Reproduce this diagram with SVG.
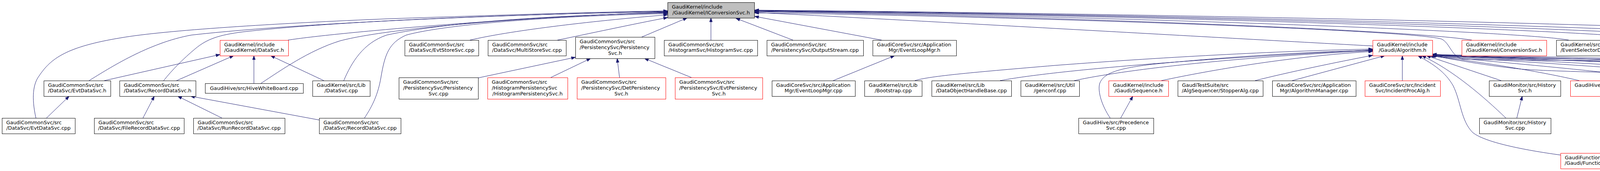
<svg xmlns="http://www.w3.org/2000/svg" width="5783" height="439" viewBox="0 0 5783 439">
<defs>
<marker id="a" viewBox="-1 -5 12 10" refX="10" refY="0" markerWidth="12" markerHeight="10" markerUnits="userSpaceOnUse" orient="auto">
<path d="M0,-3.5 L10,0 L0,3.5 z" fill="#191970" stroke="#191970" stroke-width="1"/>
</marker>
</defs>
<style>
.n rect{fill:#fff;stroke:#000;stroke-width:1}
.r rect{stroke:#f00}
.root rect{fill:#bfbfbf}
text{font-family:"DejaVu Sans","Liberation Sans",sans-serif;font-size:12.9px;fill:#000}
.m{text-anchor:middle}
.e path{fill:none;stroke:#191970;stroke-width:1;marker-end:url(#a)}
</style>
<rect width="5783" height="439" fill="#fff"/>
<g class="e" id="edges">
<path d="M92,303 C80,250 85,215 100,195 C130,150 170,120 310,97 C420,78 700,60 1000,48 C1300,38 1550,30 1709,28"/>
<path d="M228,207 C280,175 380,110 490,90 C800,55 1400,35 1709,29"/>
<path d="M419,207 C440,180 470,150 500,125 C530,100 560,90 620,82 C900,50 1400,35 1709,30"/>
<path d="M737,103 C850,85 1300,45 1709,31"/>
<path d="M668,214 C720,180 790,130 870,105 C1000,70 1400,40 1709,32"/>
<path d="M880,207 C900,160 930,110 990,90 C1150,55 1450,38 1709,33"/>
<path d="M933,303 C955,270 968,240 975,200 C985,140 995,110 1040,90 C1150,60 1450,40 1709,35"/>
<path d="M1203,103 C1300,80 1500,55 1709,38"/>
<path d="M1427,103 C1500,88 1620,62 1709,45"/>
<path d="M1643,95 L1759,46"/>
<path d="M1820,103 L1820,46"/>
<path d="M2030,103 L1884,47"/>
<path d="M2257,103 L1932,42"/>
<path d="M3514,118 C3000,90 2300,50 1932,32"/>
<path d="M3768,103 C3600,75 2600,40 1932,30"/>
<path d="M4016,103 C3900,80 2800,40 1932,29"/>
<path d="M4250,103 C4150,80 3000,40 1932,28"/>
<path d="M4428,103 C4300,78 3000,38 1932,27"/>
<path d="M4607,103 C4450,75 3000,36 1932,27"/>
<path d="M4825,103 C4700,70 3000,35 1932,26"/>
<path d="M5650,207 C5580,190 5450,178 5290,172 C5100,158 4950,150 4800,153 C4400,156 3900,156 3745,152 C3715,145 3712,110 3690,100 C3600,75 2500,40 1932,33"/>
<path d="M2342,207 C2380,195 2500,185 2700,168 C3000,145 3300,130 3514,126"/>
<path d="M2560,207 C2650,190 2900,160 3514,128"/>
<path d="M2750,207 C2850,185 3100,150 3514,130"/>
<path d="M2842,303 C2820,270 2810,235 2815,215 C2825,185 2870,175 2950,165 C3150,145 3350,133 3514,129"/>
<path d="M2973,207 C3100,180 3300,145 3514,132"/>
<path d="M3213,207 C3300,185 3420,160 3514,142"/>
<path d="M3308,207 L3545,143"/>
<path d="M3590,207 L3590,143"/>
<path d="M3843,207 L3652,143"/>
<path d="M3855,303 C3800,250 3720,180 3640,143"/>
<path d="M3995,398 C3900,385 3800,365 3770,340 C3740,310 3740,260 3720,220 C3700,185 3670,165 3630,143"/>
<path d="M4043,207 C3950,185 3800,160 3660,143"/>
<path d="M4265,207 C4200,192 3900,165 3662,143"/>
<path d="M4478,207 C4400,190 4000,165 3664,143"/>
<path d="M4597,303 C4640,275 4670,240 4660,210 C4640,170 4500,160 4300,155 C4000,150 3800,150 3667,141"/>
<path d="M4760,214 C4700,198 4300,175 3666,142"/>
<path d="M4852,303 C4900,270 4920,230 4905,205 C4880,180 4700,175 4400,165 C4000,155 3800,150 3667,140"/>
<path d="M5030,214 C4950,195 4300,165 3667,142"/>
<path d="M5172,311 C5210,270 5230,230 5205,200 C5150,170 4800,160 4300,155 C4000,150 3800,148 3667,139"/>
<path d="M5290,207 C5200,185 4600,165 3667,141"/>
<path d="M5480,207 C5350,182 4800,162 3667,140"/>
<path d="M5650,207 C5580,192 5400,190 5000,190 C4500,191 4100,190 3900,178 C3800,168 3720,152 3665,143"/>
<path d="M1224,200 L1473,147"/>
<path d="M1410,199 L1512,150"/>
<path d="M1586,199 L1580,150"/>
<path d="M1770,199 L1650,150"/>
<path d="M267,207 L563,140"/>
<path d="M452,207 L598,143"/>
<path d="M650,214 L650,143"/>
<path d="M829,207 L693,143"/>
<path d="M119,303 L177,247"/>
<path d="M366,303 L395,247"/>
<path d="M568,303 L455,247"/>
<path d="M817,308 L488,247"/>
<path d="M2133,207 L2290,143"/>
<path d="M2869,303 L2900,247"/>
<path d="M3883,303 L3897,247"/>
<path d="M4227,393 L4452,343"/>
<path d="M4545,303 L4545,247"/>
<path d="M4805,303 L4803,239"/>
<path d="M5148,311 L5093,239"/>
</g>
<g id="n0" class="n root"><rect x="1709.5" y="6.5" width="222" height="40"/><text x="1720" y="22">GaudiKernel/include</text><text class="m" x="1820.5" y="37">/GaudiKernel/IConversionSvc.h</text></g>
<g id="n1" class="n"><rect x="112.5" y="207.5" width="171" height="40"/><text x="123" y="223">GaudiCommonSvc/src</text><text class="m" x="197.5" y="237">/DataSvc/EvtDataSvc.h</text></g>
<g id="n2" class="n"><rect x="306.5" y="207.5" width="195" height="40"/><text x="317" y="223">GaudiCommonSvc/src</text><text class="m" x="403.5" y="237">/DataSvc/RecordDataSvc.h</text></g>
<g id="n3" class="n"><rect x="5.5" y="303.5" width="187" height="40"/><text x="16" y="319">GaudiCommonSvc/src</text><text class="m" x="98.5" y="333">/DataSvc/EvtDataSvc.cpp</text></g>
<g id="n4" class="n"><rect x="241.5" y="303.5" width="230" height="40"/><text x="252" y="319">GaudiCommonSvc/src</text><text class="m" x="356" y="333">/DataSvc/FileRecordDataSvc.cpp</text></g>
<g id="n5" class="n r"><rect x="563.5" y="103.5" width="175" height="40"/><text x="574" y="119">GaudiKernel/include</text><text class="m" x="650.5" y="133">/GaudiKernel/DataSvc.h</text></g>
<g id="n6" class="n"><rect x="525.5" y="214.5" width="251" height="25"/><text class="m" x="650.5" y="230.5">GaudiHive/src/HiveWhiteBoard.cpp</text></g>
<g id="n7" class="n"><rect x="800.5" y="207.5" width="147" height="40"/><text x="811" y="223">GaudiKernel/src/Lib</text><text class="m" x="873.5" y="237">/DataSvc.cpp</text></g>
<g id="n8" class="n"><rect x="495.5" y="303.5" width="234" height="40"/><text x="506" y="319">GaudiCommonSvc/src</text><text class="m" x="612" y="333">/DataSvc/RunRecordDataSvc.cpp</text></g>
<g id="n9" class="n"><rect x="817.5" y="303.5" width="209" height="40"/><text x="828" y="319">GaudiCommonSvc/src</text><text class="m" x="921.5" y="333">/DataSvc/RecordDataSvc.cpp</text></g>
<g id="n10" class="n"><rect x="1036.5" y="103.5" width="189" height="40"/><text x="1047" y="119">GaudiCommonSvc/src</text><text class="m" x="1130.5" y="133">/DataSvc/EvtStoreSvc.cpp</text></g>
<g id="n11" class="n"><rect x="1249.5" y="103.5" width="200" height="40"/><text x="1260" y="119">GaudiCommonSvc/src</text><text class="m" x="1349" y="133">/DataSvc/MultiStoreSvc.cpp</text></g>
<g id="n12" class="n"><rect x="1021.5" y="199.5" width="203" height="55"/><text x="1032" y="215">GaudiCommonSvc/src</text><text x="1032" y="230">/PersistencySvc/Persistency</text><text class="m" x="1122.5" y="245">Svc.cpp</text></g>
<g id="n13" class="n r"><rect x="1248.5" y="199.5" width="205" height="55"/><text x="1259" y="215">GaudiCommonSvc/src</text><text x="1259" y="230">/HistogramPersistencySvc</text><text class="m" x="1350.5" y="245">/HistogramPersistencySvc.h</text></g>
<g id="n14" class="n"><rect x="1473.5" y="95.5" width="203" height="55"/><text x="1484" y="111">GaudiCommonSvc/src</text><text x="1484" y="126">/PersistencySvc/Persistency</text><text class="m" x="1574.5" y="141">Svc.h</text></g>
<g id="n15" class="n"><rect x="1700.5" y="103.5" width="239" height="40"/><text x="1711" y="119">GaudiCommonSvc/src</text><text class="m" x="1819.5" y="133">/HistogramSvc/HistogramSvc.cpp</text></g>
<g id="n16" class="n r"><rect x="1477.5" y="199.5" width="227" height="55"/><text x="1488" y="215">GaudiCommonSvc/src</text><text x="1488" y="230">/PersistencySvc/DetPersistency</text><text class="m" x="1590.5" y="245">Svc.h</text></g>
<g id="n17" class="n r"><rect x="1728.5" y="199.5" width="224" height="55"/><text x="1739" y="215">GaudiCommonSvc/src</text><text x="1739" y="230">/PersistencySvc/EvtPersistency</text><text class="m" x="1840" y="245">Svc.h</text></g>
<g id="n18" class="n"><rect x="1963.5" y="103.5" width="247" height="40"/><text x="1974" y="119">GaudiCommonSvc/src</text><text class="m" x="2086.5" y="133">/PersistencySvc/OutputStream.cpp</text></g>
<g id="n19" class="n"><rect x="2234.5" y="103.5" width="214" height="40"/><text x="2245" y="119">GaudiCoreSvc/src/Application</text><text class="m" x="2341" y="133">Mgr/EventLoopMgr.h</text></g>
<g id="n20" class="n"><rect x="1976.5" y="207.5" width="213" height="40"/><text x="1987" y="223">GaudiCoreSvc/src/Application</text><text class="m" x="2082.5" y="237">Mgr/EventLoopMgr.cpp</text></g>
<g id="n21" class="n"><rect x="2213.5" y="207.5" width="147" height="40"/><text x="2224" y="223">GaudiKernel/src/Lib</text><text class="m" x="2286.5" y="237">/Bootstrap.cpp</text></g>
<g id="n22" class="n"><rect x="2385.5" y="207.5" width="204" height="40"/><text x="2396" y="223">GaudiKernel/src/Lib</text><text class="m" x="2487" y="237">/DataObjectHandleBase.cpp</text></g>
<g id="n23" class="n"><rect x="2613.5" y="207.5" width="150" height="40"/><text x="2624" y="223">GaudiKernel/src/Util</text><text class="m" x="2688" y="237">/genconf.cpp</text></g>
<g id="n24" class="n r"><rect x="2838.5" y="207.5" width="153" height="40"/><text x="2849" y="223">GaudiKernel/include</text><text class="m" x="2914.5" y="237">/Gaudi/Sequence.h</text></g>
<g id="n25" class="n"><rect x="2761.5" y="303.5" width="192" height="40"/><text x="2772" y="319">GaudiHive/src/Precedence</text><text class="m" x="2857" y="333">Svc.cpp</text></g>
<g id="n26" class="n"><rect x="3015.5" y="207.5" width="218" height="40"/><text x="3026" y="223">GaudiTestSuite/src</text><text class="m" x="3124" y="237">/AlgSequencer/StopperAlg.cpp</text></g>
<g id="n27" class="n"><rect x="3257.5" y="207.5" width="214" height="40"/><text x="3268" y="223">GaudiCoreSvc/src/Application</text><text class="m" x="3364" y="237">Mgr/AlgorithmManager.cpp</text></g>
<g id="n28" class="n r"><rect x="3514.5" y="103.5" width="153" height="40"/><text x="3525" y="119">GaudiKernel/include</text><text class="m" x="3590.5" y="133">/Gaudi/Algorithm.h</text></g>
<g id="n29" class="n r"><rect x="3494.5" y="207.5" width="193" height="40"/><text x="3505" y="223">GaudiCoreSvc/src/Incident</text><text class="m" x="3590.5" y="237">Svc/IncidentProcAlg.h</text></g>
<g id="n30" class="n r"><rect x="3742.5" y="103.5" width="217" height="40"/><text x="3753" y="119">GaudiKernel/include</text><text class="m" x="3850.5" y="133">/GaudiKernel/ConversionSvc.h</text></g>
<g id="n31" class="n"><rect x="3812.5" y="207.5" width="183" height="40"/><text x="3823" y="223">GaudiMonitor/src/History</text><text class="m" x="3903.5" y="237">Svc.h</text></g>
<g id="n32" class="n"><rect x="3787.5" y="303.5" width="183" height="40"/><text x="3798" y="319">GaudiMonitor/src/History</text><text class="m" x="3878.5" y="333">Svc.cpp</text></g>
<g id="n33" class="n"><rect x="3984.5" y="103.5" width="221" height="40"/><text x="3995" y="119">GaudiKernel/src/Lib</text><text class="m" x="4094.5" y="133">/EventSelectorDataStream.cpp</text></g>
<g id="n34" class="n"><rect x="4230.5" y="103.5" width="153" height="40"/><text x="4241" y="119">GaudiKernel/src/Lib</text><text class="m" x="4306.5" y="133">/IConversionSvc.cpp</text></g>
<g id="n35" class="n r"><rect x="4020.5" y="207.5" width="197" height="40"/><text x="4031" y="223">GaudiHive/src/AlgResource</text><text class="m" x="4118.5" y="237">Pool.h</text></g>
<g id="n36" class="n r"><rect x="4241.5" y="207.5" width="187" height="40"/><text x="4252" y="223">GaudiHive/src/PRGraph</text><text class="m" x="4334.5" y="237">/PrecedenceRulesGraph.h</text></g>
<g id="n37" class="n r"><rect x="3995.5" y="393.5" width="279" height="40"/><text x="4006" y="409">GaudiFunctional/include</text><text class="m" x="4134.5" y="423">/Gaudi/Functional/MergingTransformer.h</text></g>
<g id="n38" class="n"><rect x="4408.5" y="103.5" width="147" height="40"/><text x="4419" y="119">GaudiKernel/src/Lib</text><text class="m" x="4481.5" y="133">/TsDataSvc.cpp</text></g>
<g id="n39" class="n"><rect x="4579.5" y="103.5" width="197" height="40"/><text x="4590" y="119">GaudiSvc/src/DetectorData</text><text class="m" x="4677.5" y="133">Svc/DetDataSvc.cpp</text></g>
<g id="n40" class="n"><rect x="4800.5" y="103.5" width="178" height="40"/><text x="4811" y="119">GaudiSvc/src/NTupleSvc</text><text class="m" x="4889" y="133">/TagCollectionSvc.cpp</text></g>
<g id="n41" class="n r"><rect x="4453.5" y="207.5" width="185" height="40"/><text x="4464" y="223">GaudiKernel/include</text><text class="m" x="4545.5" y="237">/GaudiKernel/Algorithm.h</text></g>
<g id="n42" class="n r"><rect x="4448.5" y="303.5" width="195" height="40"/><text x="4459" y="319">GaudiFunctional/include</text><text class="m" x="4545.5" y="333">/Gaudi/Functional/details.h</text></g>
<g id="n43" class="n"><rect x="4713.5" y="214.5" width="179" height="25"/><text class="m" x="4802.5" y="230.5">GaudiHive/src/AlgTask.h</text></g>
<g id="n44" class="n"><rect x="4683.5" y="303.5" width="248" height="40"/><text x="4694" y="319">GaudiHive/src/AvalancheScheduler</text><text class="m" x="4807" y="333">Svc.cpp</text></g>
<g id="n45" class="n"><rect x="4966.5" y="214.5" width="233" height="25"/><text class="m" x="5082.5" y="230.5">GaudiHive/src/HiveDataBroker.h</text></g>
<g id="n46" class="n"><rect x="5035.5" y="311.5" width="247" height="25"/><text class="m" x="5158.5" y="327.5">GaudiHive/src/HiveDataBroker.cpp</text></g>
<g id="n47" class="n"><rect x="5273.5" y="207.5" width="163" height="40"/><text x="5284" y="223">GaudiKernel/src/Lib</text><text class="m" x="5354.5" y="237">/AlgorithmHistory.cpp</text></g>
<g id="n48" class="n"><rect x="5460.5" y="207.5" width="147" height="40"/><text x="5471" y="223">GaudiKernel/src/Lib</text><text class="m" x="5533.5" y="237">/AlgTool.cpp</text></g>
<g id="n49" class="n"><rect x="5630.5" y="207.5" width="147" height="40"/><text x="5641" y="223">GaudiKernel/src/Lib</text><text class="m" x="5703.5" y="237">/Algorithm.cpp</text></g>
</svg>
